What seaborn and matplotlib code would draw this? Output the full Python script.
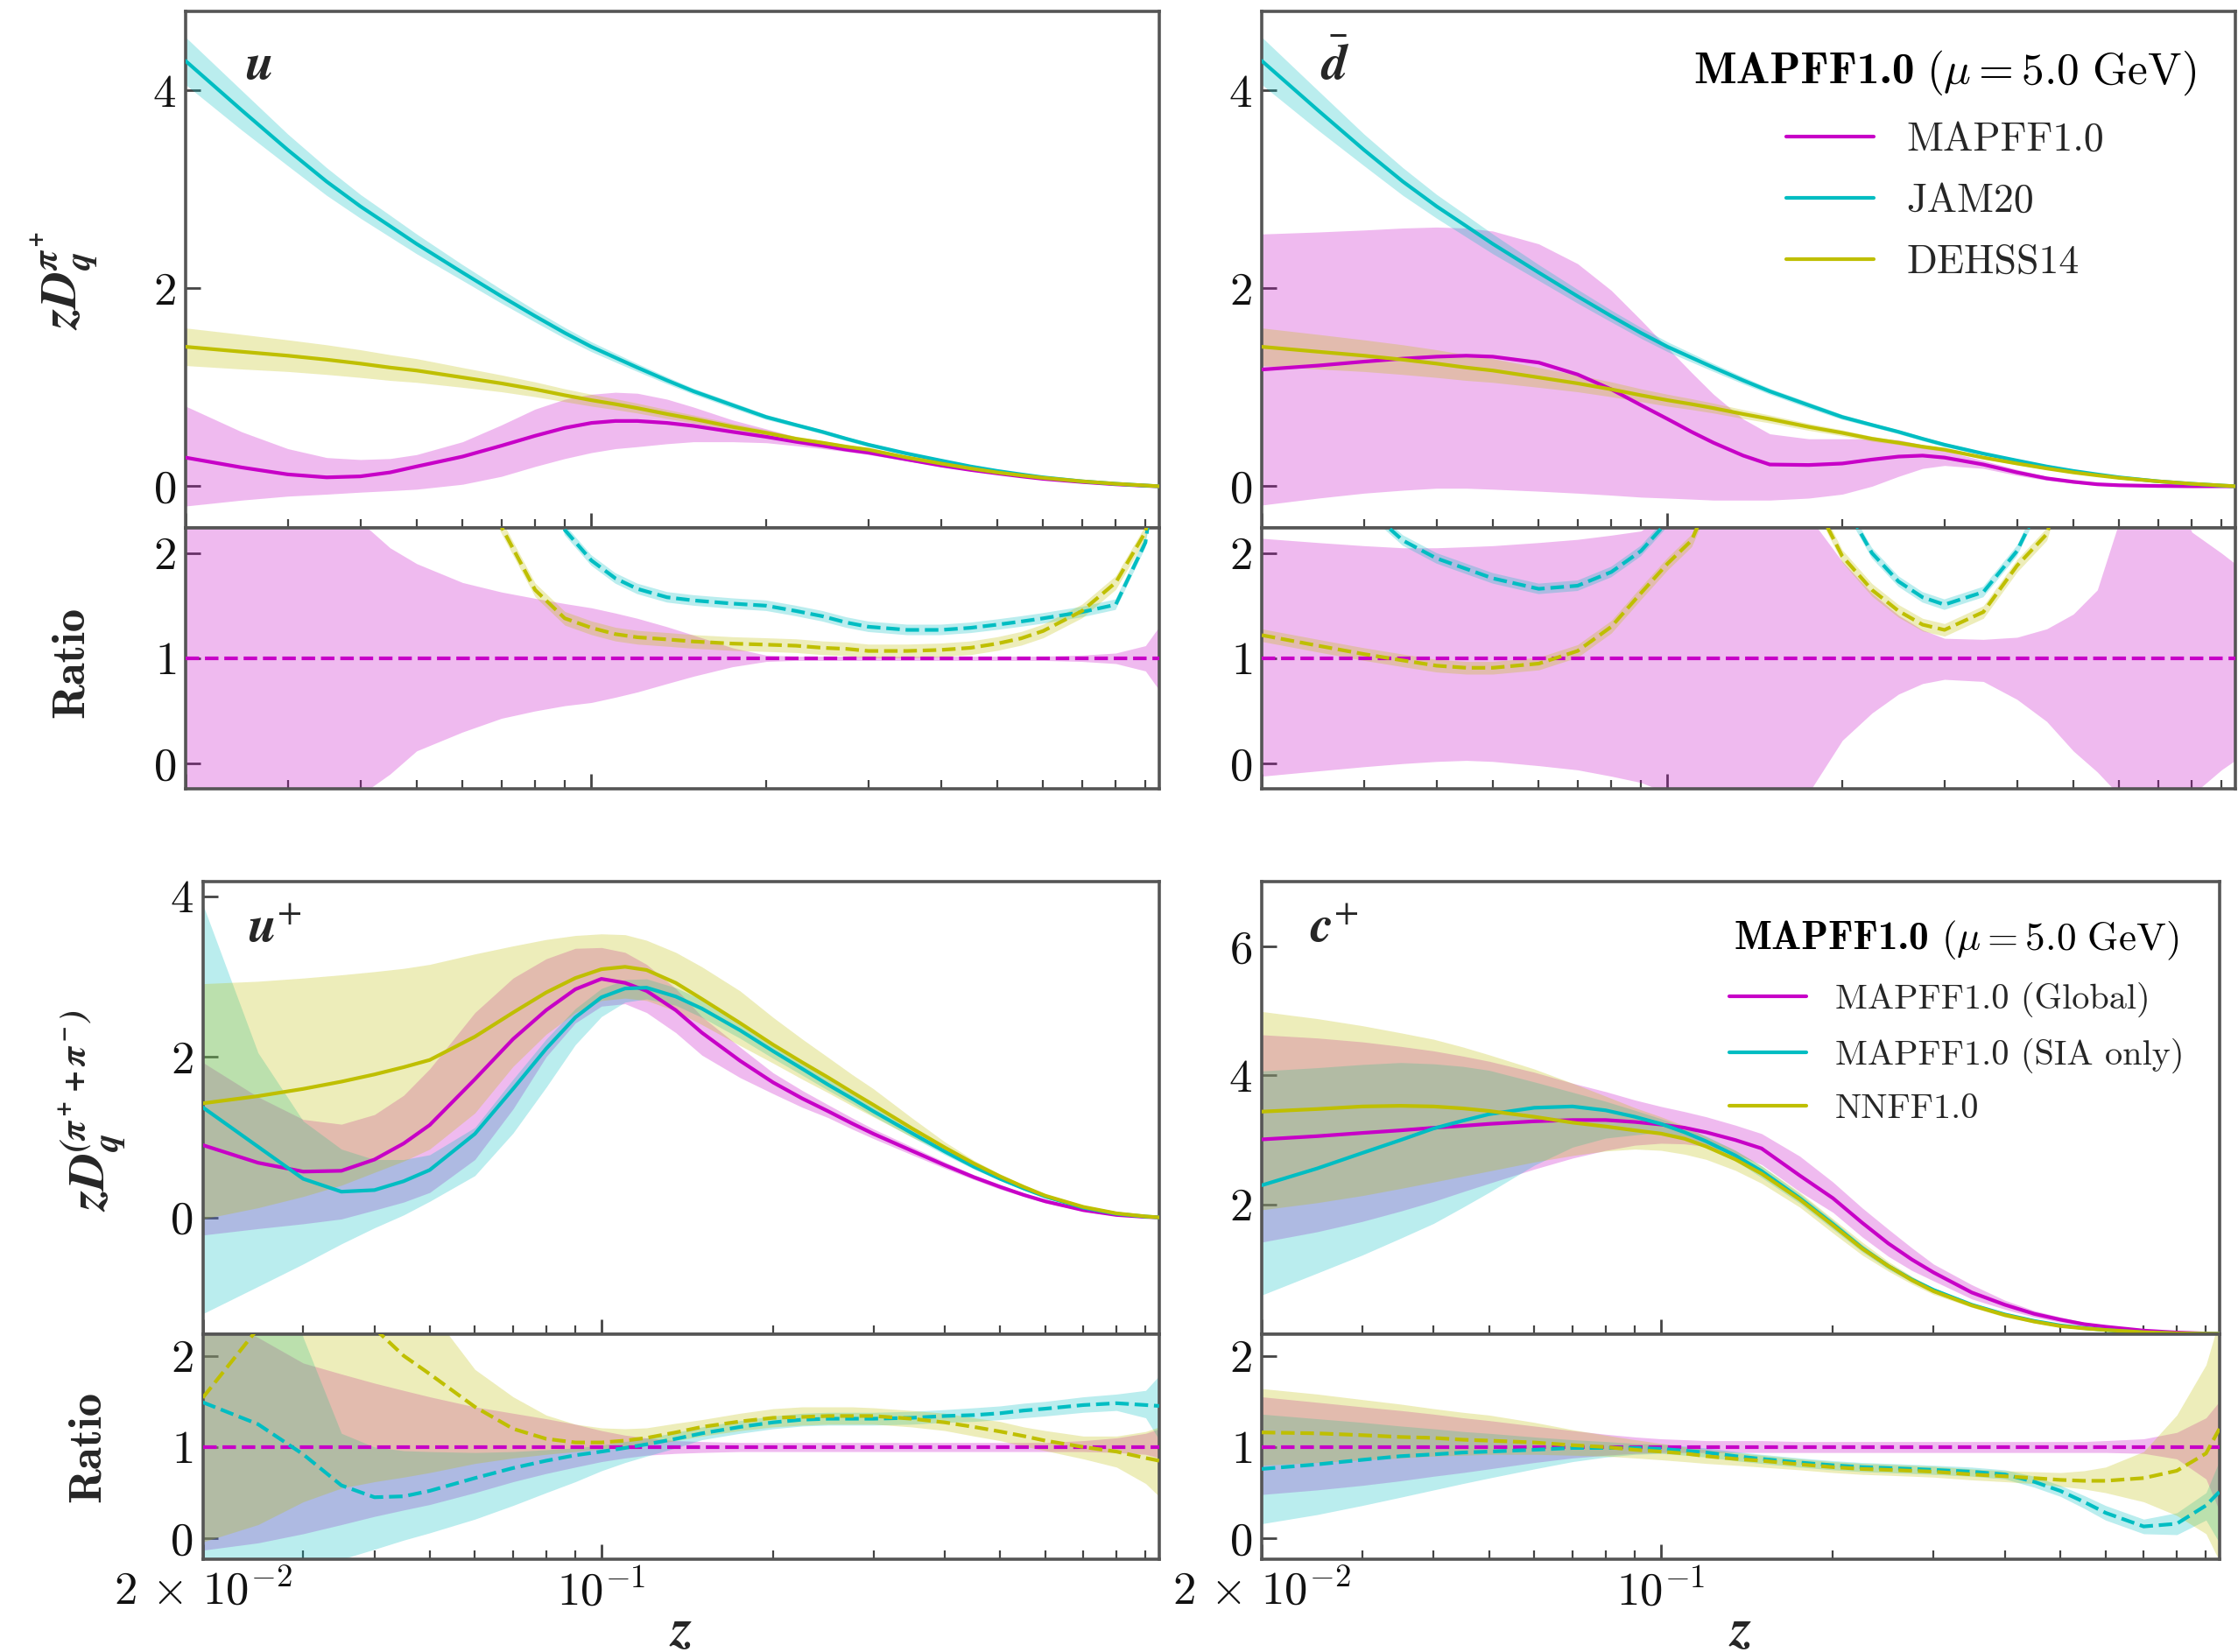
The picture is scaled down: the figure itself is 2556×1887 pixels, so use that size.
import numpy as np
import pandas as pd
import matplotlib
matplotlib.use("Agg")
import matplotlib.pyplot as plt
import seaborn as sns
from matplotlib.ticker import FixedLocator, FixedFormatter, NullFormatter
from matplotlib.font_manager import FontProperties
from matplotlib.mathtext import MathTextParser
from matplotlib.offsetbox import AnchoredOffsetbox, HPacker, TextArea

# ---------------------------------------------------------------- data
Z = [0.02, 0.025, 0.03, 0.035, 0.04, 0.045, 0.05, 0.06, 0.07, 0.08, 0.09, 0.10,
     0.11, 0.12, 0.135, 0.15, 0.175, 0.20, 0.225, 0.25, 0.275, 0.30, 0.35, 0.40,
     0.45, 0.50, 0.55, 0.60, 0.70, 0.80, 0.90, 0.95]

# --- top row: zD_q^{pi+}, JAM20 and DEHSS14 (same for u and dbar)
JAM_C = [4.30, 3.80, 3.40, 3.08, 2.83, 2.63, 2.45, 2.16, 1.92, 1.72, 1.55, 1.41, 1.30, 1.20, 1.07, 0.96,
         0.82, 0.70, 0.62, 0.55, 0.48, 0.42, 0.33, 0.26, 0.20, 0.155, 0.12, 0.09, 0.05, 0.025, 0.007, 0.0]
JAM_HI = [4.54, 4.00, 3.56, 3.22, 2.95, 2.74, 2.55, 2.24, 1.99, 1.78, 1.605, 1.46, 1.345, 1.24, 1.105, 0.99,
          0.85, 0.725, 0.64, 0.57, 0.50, 0.44, 0.345, 0.272, 0.21, 0.163, 0.127, 0.095, 0.054, 0.028, 0.009, 0.0]
JAM_LO = [4.06, 3.60, 3.24, 2.94, 2.71, 2.52, 2.35, 2.08, 1.85, 1.66, 1.495, 1.36, 1.255, 1.16, 1.035, 0.93,
          0.79, 0.675, 0.60, 0.53, 0.46, 0.40, 0.315, 0.248, 0.19, 0.147, 0.113, 0.085, 0.046, 0.022, 0.005, 0.0]
DEHSS_C = [1.41, 1.36, 1.32, 1.28, 1.24, 1.20, 1.17, 1.10, 1.04, 0.98, 0.92, 0.87, 0.83, 0.79, 0.73, 0.68,
           0.60, 0.54, 0.48, 0.44, 0.40, 0.37, 0.29, 0.23, 0.18, 0.14, 0.11, 0.085, 0.05, 0.025, 0.008, 0.0]
DEHSS_HI = [1.60, 1.535, 1.48, 1.43, 1.38, 1.33, 1.29, 1.20, 1.125, 1.055, 0.985, 0.93, 0.885, 0.84, 0.775, 0.72,
            0.635, 0.57, 0.505, 0.46, 0.42, 0.388, 0.305, 0.242, 0.19, 0.148, 0.116, 0.09, 0.054, 0.028, 0.01, 0.0]
DEHSS_LO = [1.22, 1.185, 1.16, 1.13, 1.10, 1.07, 1.05, 1.00, 0.955, 0.905, 0.855, 0.81, 0.775, 0.74, 0.685, 0.64,
            0.565, 0.51, 0.455, 0.42, 0.38, 0.352, 0.275, 0.218, 0.17, 0.132, 0.104, 0.08, 0.046, 0.022, 0.006, 0.0]

# MAPFF1.0, u
MAP_U_C = [0.29, 0.19, 0.12, 0.09, 0.10, 0.14, 0.20, 0.30, 0.41, 0.51, 0.59, 0.64, 0.66, 0.66, 0.64, 0.61,
           0.55, 0.50, 0.45, 0.41, 0.37, 0.34, 0.27, 0.21, 0.165, 0.13, 0.10, 0.075, 0.043, 0.02, 0.005, 0.0]
MAP_U_HI = [0.81, 0.55, 0.38, 0.29, 0.27, 0.28, 0.32, 0.45, 0.62, 0.78, 0.88, 0.93, 0.95, 0.94, 0.88, 0.80,
            0.67, 0.58, 0.50, 0.44, 0.39, 0.36, 0.285, 0.22, 0.172, 0.136, 0.105, 0.079, 0.046, 0.022, 0.006, 0.0]
MAP_U_LO = [-0.20, -0.14, -0.10, -0.08, -0.06, -0.045, -0.03, 0.02, 0.10, 0.20, 0.28, 0.34, 0.38, 0.40, 0.43, 0.45,
            0.45, 0.44, 0.41, 0.38, 0.35, 0.32, 0.255, 0.20, 0.158, 0.124, 0.095, 0.071, 0.040, 0.018, 0.004, 0.0]

# ratios, u
RATIO_ONE = [1.0, 1.0, 1.0, 1.0, 1.0, 1.0, 1.0, 1.0, 1.0, 1.0, 1.0, 1.0, 1.0, 1.0, 1.0, 1.0,
             1.0, 1.0, 1.0, 1.0, 1.0, 1.0, 1.0, 1.0, 1.0, 1.0, 1.0, 1.0, 1.0, 1.0, 1.0, 1.0]
R_U_MAP_HI = [3.5, 3.2, 2.9, 2.6, 2.3, 2.05, 1.9, 1.72, 1.63, 1.57, 1.52, 1.48, 1.43, 1.38, 1.30, 1.22,
              1.10, 1.03, 1.02, 1.02, 1.02, 1.02, 1.02, 1.02, 1.02, 1.02, 1.02, 1.02, 1.03, 1.05, 1.12, 1.30]
R_U_MAP_LO = [-1.5, -1.2, -0.9, -0.6, -0.3, -0.1, 0.12, 0.30, 0.43, 0.50, 0.55, 0.58, 0.63, 0.68, 0.76, 0.83,
              0.92, 0.97, 0.98, 0.98, 0.98, 0.98, 0.98, 0.98, 0.98, 0.98, 0.98, 0.98, 0.97, 0.95, 0.88, 0.70]
R_U_JAM = [14, 18, 25, 30, 28, 18, 12, 7.0, 4.6, 3.2, 2.22, 1.93, 1.76, 1.66, 1.58, 1.55,
           1.52, 1.50, 1.45, 1.40, 1.34, 1.30, 1.27, 1.27, 1.29, 1.32, 1.35, 1.38, 1.44, 1.51, 2.1, 3.0]
R_U_JAM_ERR = 0.05
R_U_DEHSS = [4.9, 7.0, 8.0, 8.0, 7.0, 6.0, 4.5, 3.0, 2.25, 1.65, 1.38, 1.29, 1.23, 1.20, 1.18, 1.16,
             1.14, 1.13, 1.12, 1.10, 1.09, 1.07, 1.07, 1.08, 1.10, 1.14, 1.19, 1.26, 1.45, 1.72, 2.2, 2.8]
R_U_DEHSS_ERR = 0.065

# MAPFF1.0, dbar
MAP_D_C = [1.18, 1.22, 1.26, 1.29, 1.31, 1.32, 1.31, 1.25, 1.13, 0.98, 0.82, 0.68, 0.55, 0.44, 0.31, 0.22,
           0.215, 0.23, 0.27, 0.30, 0.31, 0.29, 0.22, 0.14, 0.08, 0.045, 0.02, 0.01, 0.003, 0.0, 0.0, 0.0]
MAP_D_HI = [2.55, 2.57, 2.59, 2.61, 2.62, 2.61, 2.58, 2.45, 2.25, 1.98, 1.68, 1.40, 1.15, 0.93, 0.68, 0.53,
            0.48, 0.48, 0.48, 0.47, 0.42, 0.36, 0.26, 0.17, 0.10, 0.06, 0.03, 0.02, 0.008, 0.003, 0.001, 0.0]
MAP_D_LO = [-0.19, -0.12, -0.07, -0.04, -0.02, -0.02, -0.03, -0.05, -0.07, -0.09, -0.11, -0.12, -0.13, -0.14, -0.14, -0.14,
            -0.12, -0.08, 0.0, 0.10, 0.18, 0.21, 0.18, 0.11, 0.06, 0.03, 0.01, 0.0, -0.002, -0.003, -0.001, 0.0]

# ratios, dbar
R_D_MAP_HI = [2.14, 2.10, 2.07, 2.05, 2.05, 2.06, 2.07, 2.10, 2.13, 2.17, 2.21, 2.40, 2.8, 3.2, 3.5, 3.5,
              2.35, 1.92, 1.62, 1.41, 1.27, 1.19, 1.18, 1.20, 1.28, 1.42, 1.65, 2.3, 3.0, 2.2, 2.0, 1.9]
R_D_MAP_LO = [-0.12, -0.07, -0.03, 0.0, 0.02, 0.03, 0.02, -0.02, -0.06, -0.12, -0.18, -0.28, -0.5, -0.8, -1.0, -1.0,
              -0.28, 0.22, 0.48, 0.66, 0.76, 0.80, 0.78, 0.61, 0.40, 0.12, -0.08, -0.3, -0.8, -0.3, -0.06, 0.03]
R_D_JAM = [3.6, 3.0, 2.45, 2.12, 1.95, 1.85, 1.76, 1.66, 1.69, 1.82, 2.02, 2.3, 2.8, 3.4, 4.2, 4.0,
           3.2, 2.5, 2.0, 1.73, 1.58, 1.51, 1.63, 2.02, 2.6, 3.5, 5.0, 8.0, 15, 20, 20, 20]
R_D_JAM_ERR = 0.05
R_D_DEHSS = [1.22, 1.12, 1.04, 0.98, 0.93, 0.91, 0.91, 0.95, 1.07, 1.30, 1.62, 1.90, 2.12, 2.6, 3.2, 3.4,
             2.6, 1.97, 1.65, 1.45, 1.32, 1.27, 1.44, 1.88, 2.18, 3.0, 4.0, 6.0, 12, 15, 15, 15]
R_D_DEHSS_ERR = 0.06

# --- bottom row: zD_q^{(pi+ + pi-)}, u+
MAP_UP_C = [0.90, 0.68, 0.57, 0.58, 0.72, 0.92, 1.15, 1.72, 2.22, 2.58, 2.84, 2.97, 2.92, 2.82, 2.58, 2.30,
            1.95, 1.68, 1.48, 1.32, 1.17, 1.04, 0.83, 0.65, 0.50, 0.38, 0.28, 0.20, 0.09, 0.03, 0.006, 0.0]
MAP_UP_HI = [1.93, 1.50, 1.22, 1.16, 1.28, 1.52, 1.85, 2.55, 2.98, 3.22, 3.35, 3.36, 3.30, 3.15, 2.85, 2.50,
             2.12, 1.80, 1.58, 1.40, 1.24, 1.10, 0.88, 0.69, 0.53, 0.41, 0.30, 0.22, 0.10, 0.035, 0.008, 0.0]
MAP_UP_LO = [-0.22, -0.14, -0.08, -0.02, 0.09, 0.19, 0.31, 0.72, 1.35, 2.0, 2.42, 2.63, 2.66, 2.55, 2.30, 2.02,
             1.74, 1.54, 1.37, 1.24, 1.10, 0.98, 0.78, 0.61, 0.47, 0.35, 0.26, 0.18, 0.08, 0.025, 0.004, 0.0]
SIA_UP_C = [1.37, 0.88, 0.48, 0.32, 0.34, 0.45, 0.59, 1.04, 1.60, 2.10, 2.49, 2.74, 2.85, 2.86, 2.75, 2.60,
            2.33, 2.07, 1.85, 1.65, 1.48, 1.32, 1.05, 0.82, 0.63, 0.48, 0.36, 0.26, 0.12, 0.045, 0.01, 0.0]
SIA_UP_HI = [3.9, 2.05, 1.2, 0.85, 0.72, 0.72, 0.78, 1.12, 1.72, 2.22, 2.60, 2.85, 2.96, 2.97, 2.86, 2.71,
             2.43, 2.16, 1.93, 1.72, 1.54, 1.38, 1.10, 0.86, 0.66, 0.50, 0.38, 0.28, 0.13, 0.05, 0.012, 0.0]
SIA_UP_LO = [-1.20, -0.86, -0.58, -0.33, -0.13, 0.03, 0.20, 0.52, 1.05, 1.62, 2.15, 2.50, 2.68, 2.72, 2.64, 2.49,
             2.23, 1.98, 1.77, 1.58, 1.42, 1.26, 1.00, 0.78, 0.60, 0.46, 0.34, 0.24, 0.11, 0.04, 0.008, 0.0]
NN_UP_C = [1.42, 1.51, 1.60, 1.69, 1.78, 1.87, 1.96, 2.25, 2.55, 2.80, 2.98, 3.09, 3.12, 3.08, 2.92, 2.72,
           2.42, 2.15, 1.93, 1.74, 1.56, 1.40, 1.11, 0.87, 0.67, 0.51, 0.38, 0.27, 0.13, 0.05, 0.012, 0.0]
NN_UP_HI = [2.91, 2.94, 2.98, 3.02, 3.06, 3.10, 3.15, 3.28, 3.38, 3.46, 3.51, 3.53, 3.52, 3.45, 3.30, 3.12,
            2.82, 2.49, 2.22, 1.99, 1.78, 1.60, 1.24, 0.94, 0.71, 0.54, 0.40, 0.29, 0.14, 0.055, 0.013, 0.0]
NN_UP_LO = [-0.02, 0.12, 0.26, 0.40, 0.56, 0.70, 0.85, 1.30, 1.88, 2.28, 2.55, 2.70, 2.73, 2.70, 2.57, 2.40,
            2.14, 1.92, 1.72, 1.55, 1.39, 1.25, 1.00, 0.81, 0.63, 0.48, 0.36, 0.25, 0.12, 0.045, 0.01, 0.0]

R_UP_MAP_HI = [2.5, 2.2, 1.92, 1.80, 1.70, 1.62, 1.55, 1.44, 1.37, 1.31, 1.25, 1.18, 1.13, 1.10, 1.07, 1.06,
               1.05, 1.05, 1.05, 1.05, 1.05, 1.05, 1.05, 1.05, 1.05, 1.05, 1.05, 1.05, 1.07, 1.10, 1.15, 1.20]
R_UP_MAP_LO = [-0.13, -0.05, 0.05, 0.15, 0.24, 0.31, 0.37, 0.50, 0.62, 0.71, 0.78, 0.84, 0.88, 0.91, 0.93, 0.94,
               0.95, 0.95, 0.95, 0.95, 0.95, 0.95, 0.95, 0.95, 0.95, 0.95, 0.95, 0.95, 0.95, 0.94, 0.92, 0.88]
R_UP_SIA = [1.49, 1.25, 0.92, 0.58, 0.45, 0.46, 0.52, 0.66, 0.77, 0.85, 0.91, 0.95, 0.99, 1.03, 1.09, 1.15,
            1.22, 1.27, 1.30, 1.31, 1.31, 1.31, 1.32, 1.34, 1.35, 1.37, 1.40, 1.42, 1.46, 1.48, 1.46, 1.45]
R_UP_SIA_HI = [5.0, 4.0, 2.2, 1.15, 1.0, 0.96, 0.95, 0.94, 0.95, 0.97, 0.99, 1.02, 1.06, 1.10, 1.16, 1.22,
               1.29, 1.34, 1.37, 1.38, 1.38, 1.38, 1.39, 1.41, 1.43, 1.45, 1.48, 1.50, 1.55, 1.58, 1.62, 1.78]
R_UP_SIA_LO = [-1.0, -0.7, -0.45, -0.23, -0.12, -0.02, 0.06, 0.21, 0.36, 0.50, 0.62, 0.74, 0.83, 0.90, 0.99, 1.08,
               1.15, 1.20, 1.23, 1.24, 1.24, 1.24, 1.25, 1.27, 1.28, 1.30, 1.32, 1.34, 1.38, 1.40, 1.32, 1.08]
R_UP_NN = [1.54, 2.3, 2.9, 3.0, 2.3, 2.0, 1.80, 1.44, 1.20, 1.09, 1.05, 1.05, 1.07, 1.10, 1.16, 1.22,
           1.28, 1.32, 1.33, 1.34, 1.34, 1.34, 1.31, 1.27, 1.22, 1.17, 1.12, 1.07, 1.0, 0.95, 0.88, 0.85]
R_UP_NN_HI = [4.0, 4.0, 4.0, 4.0, 3.5, 3.0, 2.5, 1.85, 1.55, 1.35, 1.25, 1.21, 1.20, 1.21, 1.26, 1.30,
              1.37, 1.42, 1.44, 1.44, 1.44, 1.43, 1.40, 1.37, 1.32, 1.28, 1.22, 1.18, 1.12, 1.12, 1.17, 1.22]
R_UP_NN_LO = [-0.04, 0.15, 0.4, 0.55, 0.62, 0.67, 0.72, 0.82, 0.88, 0.92, 0.95, 0.98, 1.0, 1.02, 1.07, 1.12,
              1.18, 1.22, 1.24, 1.25, 1.25, 1.25, 1.22, 1.18, 1.12, 1.07, 1.01, 0.96, 0.87, 0.78, 0.6, 0.46]

# --- bottom row, c+
MAP_CP_C = [3.01, 3.06, 3.11, 3.15, 3.19, 3.22, 3.25, 3.29, 3.31, 3.31, 3.28, 3.24, 3.19, 3.12, 3.00, 2.87,
            2.45, 2.10, 1.72, 1.40, 1.15, 0.95, 0.64, 0.45, 0.31, 0.22, 0.15, 0.11, 0.05, 0.02, 0.005, 0.0]
MAP_CP_HI = [4.63, 4.58, 4.52, 4.45, 4.38, 4.30, 4.22, 4.05, 3.88, 3.75, 3.62, 3.52, 3.44, 3.36, 3.23, 3.10,
             2.75, 2.35, 1.95, 1.62, 1.33, 1.08, 0.76, 0.52, 0.36, 0.26, 0.18, 0.13, 0.06, 0.025, 0.006, 0.0]
MAP_CP_LO = [1.42, 1.58, 1.74, 1.90, 2.05, 2.20, 2.33, 2.55, 2.72, 2.84, 2.92, 2.95, 2.94, 2.90, 2.78, 2.62,
             2.20, 1.88, 1.50, 1.20, 0.98, 0.82, 0.54, 0.38, 0.26, 0.18, 0.12, 0.09, 0.04, 0.015, 0.004, 0.0]
SIA_CP_C = [2.30, 2.56, 2.80, 3.00, 3.18, 3.30, 3.40, 3.50, 3.52, 3.46, 3.36, 3.25, 3.12, 2.98, 2.76, 2.52,
            2.10, 1.70, 1.33, 1.05, 0.84, 0.68, 0.45, 0.30, 0.20, 0.13, 0.09, 0.06, 0.02, 0.005, 0.001, 0.0]
SIA_CP_HI = [4.07, 4.12, 4.17, 4.20, 4.18, 4.14, 4.08, 3.90, 3.74, 3.60, 3.46, 3.33, 3.20, 3.06, 2.84, 2.60,
             2.17, 1.76, 1.38, 1.09, 0.88, 0.71, 0.47, 0.32, 0.21, 0.14, 0.095, 0.065, 0.022, 0.006, 0.001, 0.0]
SIA_CP_LO = [0.60, 0.94, 1.22, 1.48, 1.71, 1.96, 2.19, 2.61, 2.89, 3.03, 3.08, 3.12, 3.02, 2.88, 2.68, 2.42,
             2.02, 1.62, 1.27, 1.00, 0.80, 0.64, 0.43, 0.28, 0.19, 0.12, 0.085, 0.055, 0.018, 0.004, 0.001, 0.0]
NN_CP_C = [3.44, 3.48, 3.52, 3.53, 3.52, 3.49, 3.45, 3.36, 3.27, 3.21, 3.15, 3.10, 3.02, 2.90, 2.70, 2.48,
           2.08, 1.68, 1.32, 1.05, 0.83, 0.66, 0.44, 0.29, 0.19, 0.12, 0.085, 0.06, 0.025, 0.008, 0.002, 0.0]
NN_CP_HI = [4.99, 4.88, 4.77, 4.66, 4.56, 4.44, 4.32, 4.10, 3.88, 3.68, 3.50, 3.36, 3.22, 3.05, 2.84, 2.60,
            2.19, 1.78, 1.42, 1.12, 0.89, 0.71, 0.47, 0.32, 0.21, 0.135, 0.095, 0.066, 0.028, 0.009, 0.002, 0.0]
NN_CP_LO = [1.92, 2.03, 2.14, 2.25, 2.35, 2.44, 2.52, 2.66, 2.76, 2.83, 2.86, 2.84, 2.78, 2.70, 2.53, 2.33,
            1.96, 1.56, 1.22, 0.97, 0.77, 0.61, 0.41, 0.26, 0.17, 0.105, 0.075, 0.052, 0.022, 0.007, 0.0015, 0.0]

R_CP_MAP_HI = [1.55, 1.49, 1.44, 1.40, 1.36, 1.32, 1.29, 1.23, 1.18, 1.14, 1.11, 1.09, 1.08, 1.07, 1.07, 1.07,
               1.06, 1.06, 1.06, 1.06, 1.06, 1.06, 1.06, 1.06, 1.06, 1.06, 1.06, 1.07, 1.09, 1.16, 1.32, 1.50]
R_CP_MAP_LO = [0.48, 0.53, 0.58, 0.63, 0.68, 0.72, 0.76, 0.83, 0.88, 0.91, 0.93, 0.94, 0.94, 0.94, 0.94, 0.94,
               0.94, 0.94, 0.94, 0.94, 0.94, 0.94, 0.94, 0.94, 0.94, 0.94, 0.94, 0.94, 0.93, 0.87, 0.65, 0.30]
R_CP_SIA = [0.76, 0.81, 0.86, 0.90, 0.92, 0.94, 0.95, 0.97, 0.99, 0.99, 0.99, 0.98, 0.96, 0.94, 0.90, 0.87,
            0.83, 0.80, 0.78, 0.77, 0.76, 0.75, 0.73, 0.70, 0.62, 0.52, 0.40, 0.28, 0.13, 0.16, 0.36, 0.51]
R_CP_SIA_HI = [1.36, 1.31, 1.27, 1.23, 1.20, 1.17, 1.15, 1.11, 1.08, 1.06, 1.04, 1.03, 1.01, 0.99, 0.95, 0.92,
               0.88, 0.85, 0.83, 0.82, 0.81, 0.80, 0.78, 0.75, 0.68, 0.58, 0.47, 0.36, 0.21, 0.28, 0.50, 0.85]
R_CP_SIA_LO = [0.16, 0.26, 0.36, 0.45, 0.53, 0.60, 0.66, 0.76, 0.84, 0.89, 0.92, 0.93, 0.91, 0.89, 0.85, 0.82,
               0.78, 0.75, 0.73, 0.72, 0.71, 0.70, 0.68, 0.65, 0.56, 0.46, 0.33, 0.20, 0.05, 0.04, 0.20, -0.05]
R_CP_NN = [1.16, 1.15, 1.13, 1.11, 1.10, 1.08, 1.07, 1.05, 1.02, 1.00, 0.97, 0.95, 0.93, 0.90, 0.87, 0.85,
           0.81, 0.78, 0.76, 0.75, 0.74, 0.73, 0.70, 0.68, 0.66, 0.64, 0.63, 0.63, 0.66, 0.74, 0.93, 1.20]
R_CP_NN_HI = [1.64, 1.58, 1.52, 1.47, 1.42, 1.38, 1.35, 1.27, 1.19, 1.13, 1.08, 1.04, 1.00, 0.97, 0.94, 0.91,
              0.87, 0.84, 0.82, 0.81, 0.80, 0.79, 0.76, 0.74, 0.73, 0.72, 0.74, 0.78, 0.95, 1.35, 1.9, 2.4]
R_CP_NN_LO = [0.80, 0.83, 0.86, 0.88, 0.90, 0.91, 0.92, 0.92, 0.91, 0.90, 0.88, 0.86, 0.84, 0.82, 0.80, 0.78,
              0.75, 0.72, 0.70, 0.69, 0.68, 0.67, 0.64, 0.62, 0.60, 0.57, 0.54, 0.50, 0.40, 0.25, 0.05, -0.25]

LEGEND_TOP = ["MAPFF1.0", "JAM20", "DEHSS14"]
LEGEND_BOTTOM = ["MAPFF1.0 (Global)", "MAPFF1.0 (SIA only)", "NNFF1.0"]
TITLE_BOLD = "MAPFF1.0"
TITLE_REST = r"$(\mu = 5.0\ \mathrm{GeV})$"
LEGEND_TITLE = r"$\mathbf{MAPFF1.0}\ (\mu = 5.0\ \mathrm{GeV})$"
X_MAJOR = [0.02, 0.1]
X_MAJOR_LABELS = [r"$2\,\times\,10^{-2}$", r"$10^{-1}$"]
X_MINOR = [0.03, 0.04, 0.05, 0.06, 0.07, 0.08, 0.09, 0.2, 0.3, 0.4, 0.5, 0.6, 0.7, 0.8, 0.9]

# ---------------------------------------------------------------- style
sns.set_theme(style="ticks")
plt.rcParams.update({
    "font.family": "serif",
    "font.serif": ["cmr10", "DejaVu Serif"],
    "mathtext.fontset": "cm",
    "axes.formatter.use_mathtext": True,
    "axes.unicode_minus": False,
    "axes.edgecolor": "#555555",
    "axes.linewidth": 1.3,
    "xtick.color": "#444444",
    "ytick.color": "#444444",
    "xtick.labelcolor": "#111111",
    "ytick.labelcolor": "#111111",
})

M_COL = (0.78, 0.0, 0.78)
C_COL = (0.0, 0.74, 0.76)
Y_COL = (0.75, 0.75, 0.0)
ALPHA = 0.27
LW = 1.5

try:
    MathTextParser("agg").parse(r"$\mathbfit{u}$", dpi=72,
                                prop=FontProperties(math_fontfamily="stix"))
    BF = r"\mathbfit"
except Exception:
    BF = r"\mathbf"

fig = plt.figure(figsize=(12.78, 9.435), dpi=200)

POS = {
    "tl_main": [0.0829, 0.6805, 0.4350, 0.3126],
    "tl_ratio": [0.0829, 0.5225, 0.4350, 0.1580],
    "tr_main": [0.5638, 0.6805, 0.4349, 0.3126],
    "tr_ratio": [0.5638, 0.5225, 0.4349, 0.1580],
    "bl_main": [0.0906, 0.1926, 0.4273, 0.2737],
    "bl_ratio": [0.0906, 0.0561, 0.4273, 0.1365],
    "br_main": [0.5638, 0.1926, 0.4279, 0.2737],
    "br_ratio": [0.5638, 0.0561, 0.4279, 0.1365],
}
axes = {k: fig.add_axes(v) for k, v in POS.items()}


def style_axis(ax, ylim, yticks, xlabels=False):
    ax.set_xscale("log")
    ax.set_xlim(0.02, 0.95)
    ax.set_ylim(*ylim)
    ax.set_yticks(yticks)
    ax.xaxis.set_major_locator(FixedLocator(X_MAJOR))
    ax.xaxis.set_minor_locator(FixedLocator(X_MINOR))
    ax.xaxis.set_minor_formatter(NullFormatter())
    if xlabels:
        ax.xaxis.set_major_formatter(FixedFormatter(X_MAJOR_LABELS))
    else:
        ax.xaxis.set_major_formatter(NullFormatter())
    ax.tick_params(which="both", direction="in", top=False, right=False,
                   labelsize=19, pad=4)
    ax.tick_params(which="major", length=6, width=1.0)
    ax.tick_params(which="minor", length=3.5, width=0.8)
    ax.yaxis.set_minor_locator(FixedLocator([]))
    ax.set_xlabel("")
    ax.set_ylabel("")


def draw(ax, z, c, lo, hi, color, ls="-", label=None):
    ax.fill_between(z, lo, hi, color=color, alpha=ALPHA, linewidth=0, zorder=1)
    df = pd.DataFrame({"z": z, "v": c})
    sns.lineplot(data=df, x="z", y="v", ax=ax, color=color, linewidth=LW,
                 linestyle=ls, estimator=None, sort=False, label=label,
                 legend=False, zorder=3)


def err_band(vals, err):
    return [v - err for v in vals], [v + err for v in vals]


def title_box(size):
    box = HPacker(children=[
        TextArea(TITLE_BOLD, textprops=dict(fontfamily="cmb10", fontsize=size, color="black")),
        TextArea(TITLE_REST, textprops=dict(fontsize=size, color="black")),
    ], align="baseline", pad=0, sep=5)
    box.set_figure(fig)
    return box


def legend_with_title(ax, size, title_size, spacing, anchor, title_center):
    leg = ax.legend(title=LEGEND_TITLE, loc="upper right", bbox_to_anchor=anchor,
                    frameon=False, alignment="center", fontsize=size,
                    title_fontsize=title_size, handlelength=2.2, handletextpad=0.8,
                    labelspacing=spacing, borderaxespad=0.2)
    box = title_box(title_size)
    try:
        # swap the single-font title for a bold + regular pair, same layout slot
        leg._legend_box._children[0] = box
    except Exception:
        leg.set_title(None)
        ab = AnchoredOffsetbox(loc="center", child=box, frameon=False, pad=0, borderpad=0,
                               bbox_to_anchor=title_center, bbox_transform=ax.transAxes)
        ax.add_artist(ab)


# ---- top-left: u
ax = axes["tl_main"]
draw(ax, Z, MAP_U_C, MAP_U_LO, MAP_U_HI, M_COL)
draw(ax, Z, JAM_C, JAM_LO, JAM_HI, C_COL)
draw(ax, Z, DEHSS_C, DEHSS_LO, DEHSS_HI, Y_COL)
style_axis(ax, (-0.42, 4.8), [0, 2, 4])

ax = axes["tl_ratio"]
draw(ax, Z, RATIO_ONE, R_U_MAP_LO, R_U_MAP_HI, M_COL, "--")
lo, hi = err_band(R_U_JAM, R_U_JAM_ERR)
draw(ax, Z, R_U_JAM, lo, hi, C_COL, "--")
lo, hi = err_band(R_U_DEHSS, R_U_DEHSS_ERR)
draw(ax, Z, R_U_DEHSS, lo, hi, Y_COL, "--")
style_axis(ax, (-0.24, 2.24), [0, 1, 2])

# ---- top-right: dbar
ax = axes["tr_main"]
draw(ax, Z, MAP_D_C, MAP_D_LO, MAP_D_HI, M_COL, label=LEGEND_TOP[0])
draw(ax, Z, JAM_C, JAM_LO, JAM_HI, C_COL, label=LEGEND_TOP[1])
draw(ax, Z, DEHSS_C, DEHSS_LO, DEHSS_HI, Y_COL, label=LEGEND_TOP[2])
style_axis(ax, (-0.42, 4.8), [0, 2, 4])
legend_with_title(ax, 16.5, 18.5, 0.62, (0.985, 0.975), (0.6965, 0.884))

ax = axes["tr_ratio"]
draw(ax, Z, RATIO_ONE, R_D_MAP_LO, R_D_MAP_HI, M_COL, "--")
lo, hi = err_band(R_D_JAM, R_D_JAM_ERR)
draw(ax, Z, R_D_JAM, lo, hi, C_COL, "--")
lo, hi = err_band(R_D_DEHSS, R_D_DEHSS_ERR)
draw(ax, Z, R_D_DEHSS, lo, hi, Y_COL, "--")
style_axis(ax, (-0.24, 2.24), [0, 1, 2])

# ---- bottom-left: u+
ax = axes["bl_main"]
draw(ax, Z, MAP_UP_C, MAP_UP_LO, MAP_UP_HI, M_COL)
draw(ax, Z, SIA_UP_C, SIA_UP_LO, SIA_UP_HI, C_COL)
draw(ax, Z, NN_UP_C, NN_UP_LO, NN_UP_HI, Y_COL)
style_axis(ax, (-1.45, 4.18), [0, 2, 4])

ax = axes["bl_ratio"]
draw(ax, Z, RATIO_ONE, R_UP_MAP_LO, R_UP_MAP_HI, M_COL, "--")
draw(ax, Z, R_UP_SIA, R_UP_SIA_LO, R_UP_SIA_HI, C_COL, "--")
draw(ax, Z, R_UP_NN, R_UP_NN_LO, R_UP_NN_HI, Y_COL, "--")
style_axis(ax, (-0.23, 2.24), [0, 1, 2], xlabels=True)

# ---- bottom-right: c+
ax = axes["br_main"]
draw(ax, Z, MAP_CP_C, MAP_CP_LO, MAP_CP_HI, M_COL, label=LEGEND_BOTTOM[0])
draw(ax, Z, SIA_CP_C, SIA_CP_LO, SIA_CP_HI, C_COL, label=LEGEND_BOTTOM[1])
draw(ax, Z, NN_CP_C, NN_CP_LO, NN_CP_HI, Y_COL, label=LEGEND_BOTTOM[2])
style_axis(ax, (0.0, 7.0), [2, 4, 6])
legend_with_title(ax, 14.5, 16.3, 0.58, (0.985, 0.965), (0.728, 0.883))

ax = axes["br_ratio"]
draw(ax, Z, RATIO_ONE, R_CP_MAP_LO, R_CP_MAP_HI, M_COL, "--")
draw(ax, Z, R_CP_SIA, R_CP_SIA_LO, R_CP_SIA_HI, C_COL, "--")
draw(ax, Z, R_CP_NN, R_CP_NN_LO, R_CP_NN_HI, Y_COL, "--")
style_axis(ax, (-0.23, 2.24), [0, 1, 2], xlabels=True)

# ---- panel labels
for key, txt in [("tl_main", rf"${BF}{{u}}$"), ("tr_main", rf"$\bar{{{BF}{{d}}}}$"),
                 ("bl_main", rf"${BF}{{u}}^{{+}}$"), ("br_main", rf"${BF}{{c}}^{{+}}$")]:
    axes[key].text(0.075, 0.895, txt, transform=axes[key].transAxes, fontsize=21,
                   ha="center", va="center", math_fontfamily="stix")

# ---- axis titles
fig.text(0.0287, 0.830, rf"${BF}{{zD_q^{{\pi^+}}}}$", rotation=90, fontsize=21,
         ha="center", va="center", math_fontfamily="stix")
fig.text(0.0415, 0.328, rf"${BF}{{zD_q^{{(\pi^+ + \pi^-)}}}}$", rotation=90, fontsize=21,
         ha="center", va="center", math_fontfamily="stix")
fig.text(0.0319, 0.5993, "Ratio", rotation=90, fontsize=19, fontfamily="cmb10",
         ha="center", va="center")
fig.text(0.0395, 0.1244, "Ratio", rotation=90, fontsize=19, fontfamily="cmb10",
         ha="center", va="center")
fig.text(0.3042, 0.0125, rf"${BF}{{z}}$", fontsize=22, ha="center", va="center",
         math_fontfamily="stix")
fig.text(0.7777, 0.0125, rf"${BF}{{z}}$", fontsize=22, ha="center", va="center",
         math_fontfamily="stix")

fig.savefig("out.png", dpi=200)
